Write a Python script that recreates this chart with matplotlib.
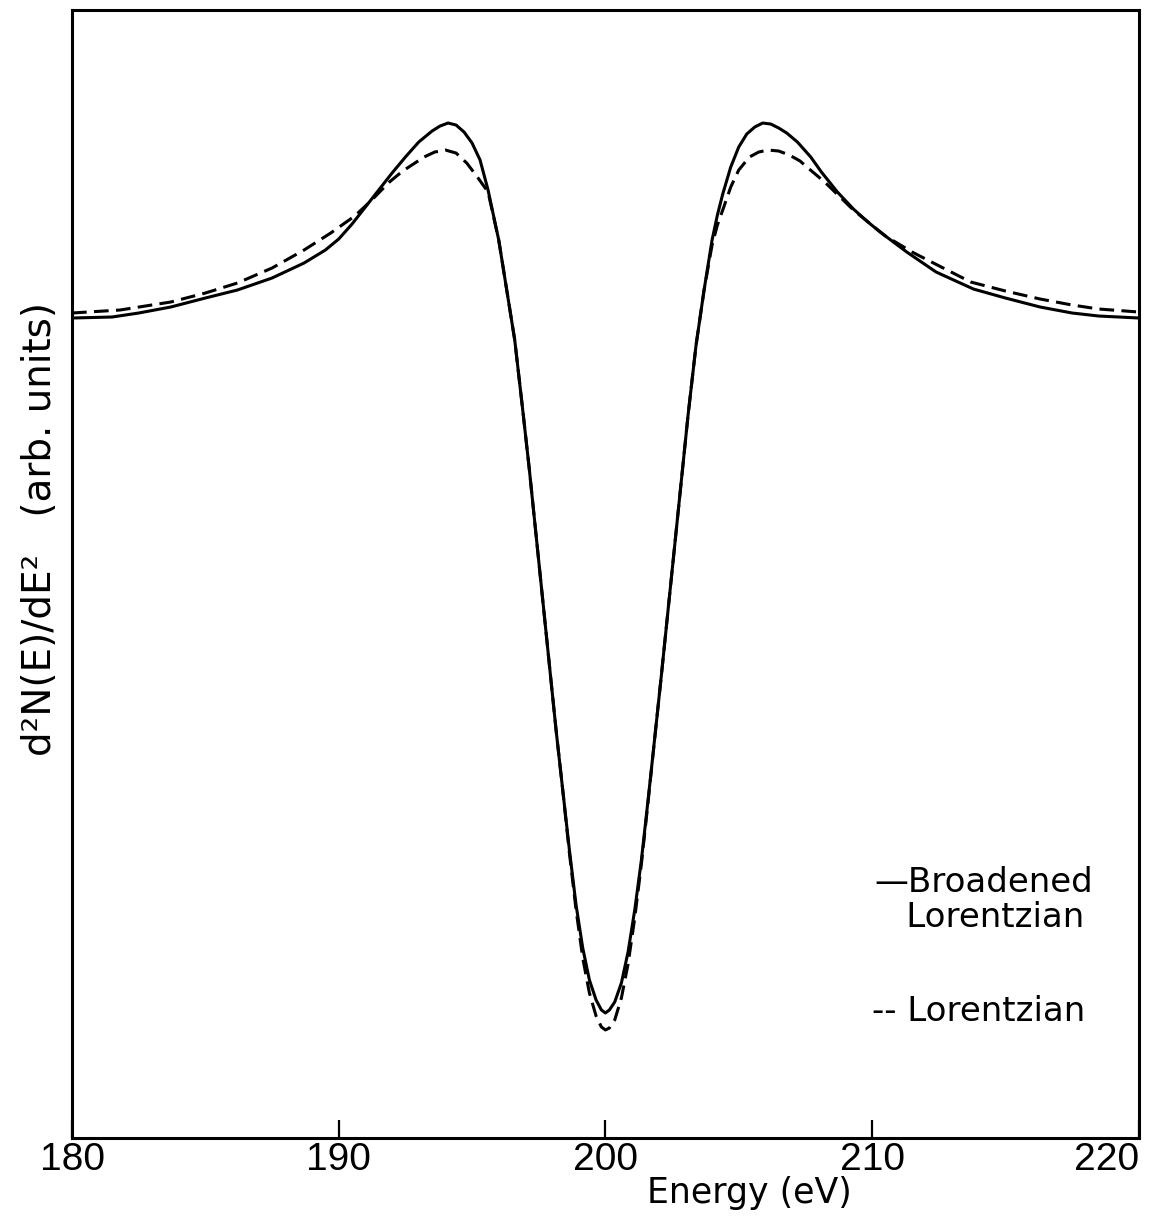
import matplotlib
matplotlib.use("Agg")
import matplotlib.pyplot as plt

# values (arb. units, baseline near 0)
energy_broadened = [180.0, 181.5, 182.5, 183.7, 185.0, 186.2, 187.5, 188.7, 189.5, 190.0,
                    190.5, 191.0, 191.5, 192.0, 192.5, 193.0, 193.5, 193.8, 194.1, 194.4,
                    194.7, 195.0, 195.3, 195.6, 195.8, 196.0, 196.3, 196.6, 196.9, 197.15,
                    197.4, 197.65, 197.9, 198.15, 198.4, 198.65, 198.9, 199.15, 199.4, 199.65,
                    199.85, 200.0, 200.15, 200.35, 200.6, 200.85, 201.1, 201.35, 201.6, 201.85,
                    202.1, 202.35, 202.6, 202.85, 203.1, 203.4, 203.7, 204.0, 204.2, 204.4,
                    204.7, 205.0, 205.3, 205.6, 205.9, 206.2, 206.5, 206.8, 207.2, 207.7,
                    208.1, 208.7, 209.3, 209.8, 210.3, 211.3, 212.4, 213.8, 215.0, 216.3,
                    217.5, 218.5, 220.0]
broadened = [0.2, 0.3, 0.7, 1.3, 2.2, 3.0, 4.2, 5.7, 7.0, 8.1,
             9.6, 11.3, 13.0, 14.7, 16.3, 17.8, 18.9, 19.4, 19.7, 19.5,
             18.8, 17.7, 16.0, 13.0, 10.5, 8.0, 3.0, -2.0, -9.0, -15.0,
             -21.5, -28.0, -34.5, -41.0, -47.0, -53.0, -58.5, -62.8, -66.0, -68.0,
             -69.0, -69.3, -69.0, -68.2, -66.3, -63.2, -59.0, -54.0, -48.0, -41.8,
             -35.5, -29.0, -22.5, -16.0, -9.5, -2.5, 3.0, 8.0, 10.5, 12.6,
             15.3, 17.3, 18.6, 19.3, 19.7, 19.6, 19.2, 18.7, 17.8, 16.3,
             14.8, 12.8, 11.1, 9.9, 8.8, 6.8, 4.8, 3.1, 2.2, 1.3,
             0.7, 0.4, 0.2]

energy_lorentzian = [180.0, 181.8, 183.7, 185.0, 186.2, 187.5, 188.7, 189.7, 190.6, 191.2,
                     191.9, 192.4, 192.8, 193.2, 193.6, 194.0, 194.4, 194.8, 195.2, 195.6,
                     195.8, 196.0, 196.3, 196.6, 196.9, 197.15, 197.4, 197.65, 197.9, 198.15,
                     198.4, 198.65, 198.9, 199.15, 199.4, 199.65, 199.85, 200.0, 200.15, 200.35,
                     200.6, 200.85, 201.1, 201.35, 201.6, 201.85, 202.1, 202.35, 202.6, 202.85,
                     203.1, 203.4, 203.7, 204.0, 204.2, 204.4, 204.7, 205.0, 205.4, 205.75,
                     206.1, 206.5, 206.9, 207.3, 207.6, 208.0, 208.3, 208.8, 209.3, 209.9,
                     210.5, 211.5, 212.3, 213.7, 215.0, 216.3, 217.5, 218.5, 220.0]
lorentzian = [0.7, 1.0, 1.8, 2.7, 3.7, 5.2, 7.0, 8.7, 10.4, 11.9,
              13.8, 14.9, 15.6, 16.3, 16.8, 17.0, 16.7, 15.7, 14.3, 12.8,
              10.4, 8.0, 3.0, -2.0, -9.0, -15.0, -21.5, -28.0, -34.5, -41.0,
              -47.0, -53.3, -59.0, -63.8, -67.3, -69.6, -70.7, -71.0, -70.8, -70.0,
              -67.8, -64.4, -59.8, -54.4, -48.2, -41.8, -35.5, -29.0, -22.5, -16.0,
              -9.5, -2.5, 3.0, 7.5, 9.5, 11.0, 13.3, 15.0, 16.3, 16.8,
              17.0, 16.9, 16.5, 15.9, 15.2, 14.3, 13.6, 12.3, 11.0, 9.7,
              8.4, 6.8, 5.7, 3.8, 2.9, 2.1, 1.5, 1.1, 0.8]

x_ticks = [180, 190, 200, 210, 220]

plt.rcParams['font.family'] = ['DejaVu Sans']

fig = plt.figure(figsize=(11.62, 12.24), dpi=100)
ax = fig.add_axes([0.062, 0.0703, 0.918, 0.9215])

ax.plot(energy_broadened, broadened, color='black', linewidth=2.2,
        solid_joinstyle='round')
ax.plot(energy_lorentzian, lorentzian, color='black', linewidth=2.2,
        linestyle=(0, (4.8, 2.4)))

ax.set_xlim(180, 220)
ax.set_ylim(-81.8, 31.0)
ax.set_xticks(x_ticks)
ax.set_xticklabels([str(t) for t in x_ticks], fontfamily='Liberation Sans', fontsize=28)
ax.get_xticklabels()[-1].set_horizontalalignment('right')
ax.set_yticks([])
ax.tick_params(axis='x', direction='in', length=13, width=1.6, pad=3, color='black')

for side in ['left', 'right', 'top', 'bottom']:
    ax.spines[side].set_linewidth(2.2)

ax.set_xlabel('Energy (eV)', fontsize=25)
ax.xaxis.set_label_coords(0.635, -0.034)
ax.set_ylabel('d²N(E)/dE²   (arb. units)', fontsize=28)
ax.yaxis.set_label_coords(-0.012, 0.54)

# legend written as text, like the original
ax.text(0.752, 0.211, '—Broadened\n   Lorentzian', transform=ax.transAxes,
        fontsize=24.5, ha='left', va='center', linespacing=1.1)
ax.text(0.750, 0.112, '-- Lorentzian', transform=ax.transAxes,
        fontsize=24.5, ha='left', va='center')

fig.savefig('out.png', dpi=100)
